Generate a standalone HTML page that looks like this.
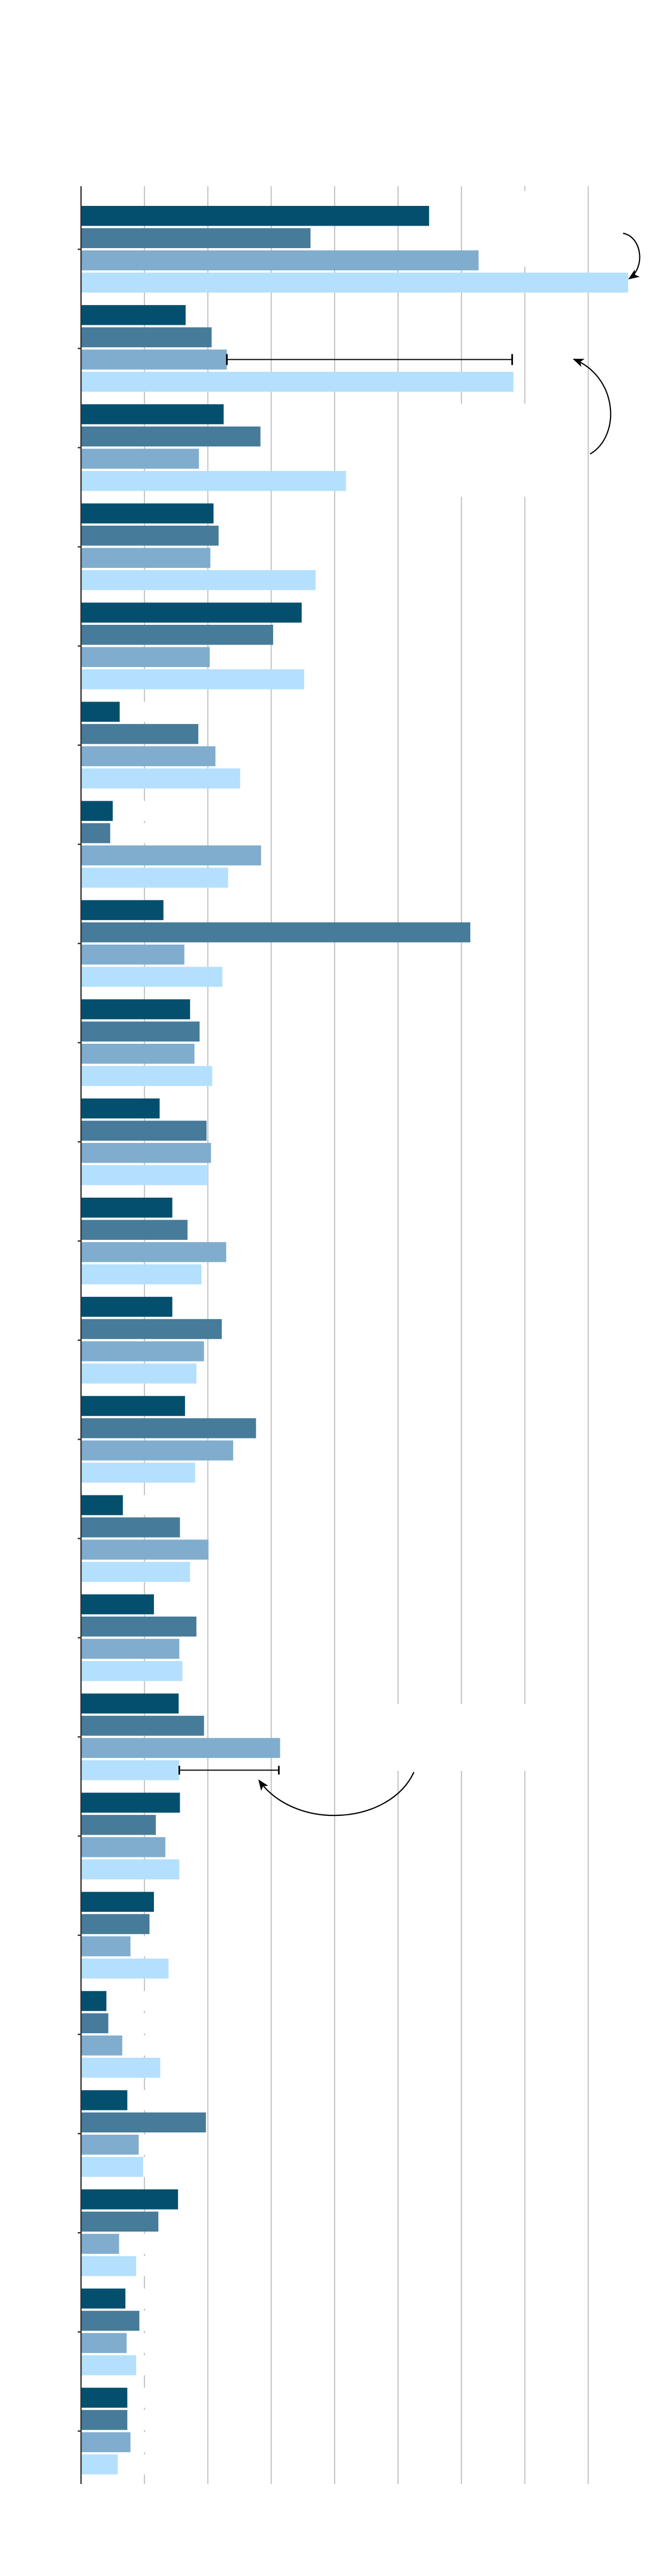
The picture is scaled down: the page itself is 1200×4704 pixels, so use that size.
<!DOCTYPE html>
<html><head><meta charset="utf-8"><title>Grouped bar chart</title>
<style>html,body{margin:0;padding:0;background:#fff}svg{display:block}</style></head>
<body>
<svg id="chart" width="1200" height="4704" viewBox="0 0 1200 4704" xmlns="http://www.w3.org/2000/svg">
<defs>
<marker id="ah" viewBox="0 0 20 20" refX="18" refY="10" markerWidth="20" markerHeight="20" markerUnits="userSpaceOnUse" orient="auto">
<path d="M0,2 L20,10 L0,18 L5,10 Z" fill="#000"/>
</marker>
</defs>
<g id="grid"></g>
<g id="masks"></g>
<g id="bars"></g>
<g id="axis"></g>
<g id="annot"></g>
</svg>
<script>
const categories = ["g1","g2","g3","g4","g5","g6","g7","g8","g9","g10","g11","g12","g13","g14","g15","g16","g17","g18","g19","g20","g21","g22","g23"];
const series1 = [54.9,16.5,22.5,20.9,34.8,6.1,5.0,13.0,17.2,12.4,14.4,14.4,16.4,6.6,11.5,15.4,15.6,11.5,4.0,7.3,15.3,7.0,7.3];
const series2 = [36.2,20.6,28.3,21.7,30.3,18.5,4.6,61.4,18.7,19.8,16.8,22.2,27.6,15.6,18.2,19.4,11.8,10.8,4.3,19.7,12.2,9.2,7.3];
const series3 = [62.7,23.0,18.6,20.4,20.3,21.2,28.4,16.3,17.9,20.5,22.9,19.4,24.0,20.1,15.5,31.4,13.3,7.8,6.5,9.1,6.0,7.2,7.8];
const series4 = [86.3,68.2,41.8,37.0,35.2,25.1,23.2,22.3,20.7,20.0,19.0,18.2,18.0,17.2,16.0,15.5,15.5,13.8,12.5,9.8,8.7,8.7,5.8];
const xTicks = [0,10,20,30,40,50,60,70,80];
const errorBars = [{group:1, series:2, from:23.0, to:68.0},{group:15, series:3, from:15.5, to:31.2}];

const NS="http://www.w3.org/2000/svg";
const X0=148, PX=11.58, TOP=340, BOTTOM=4536, G0=376, GP=181.1, BP=40.6, BH=36.5;
const colors=["#044f6e","#477b9a","#80adcd","#b4e0fe"];
const seriesAll=[series1,series2,series3,series4];
function xs(v){return X0+v*PX;}
function gy(i){return G0+i*GP;}
function mk(tag,attrs,parent){const e=document.createElementNS(NS,tag);for(const k in attrs)e.setAttribute(k,attrs[k]);parent.appendChild(e);return e;}

const grid=document.getElementById('grid');
xTicks.forEach((t,i)=>{ if(t===0) return;
  const l=mk('line',{x1:xs(t),x2:xs(t),y1:TOP,y2:BOTTOM,stroke:'#c0c0c0','stroke-width':2},grid);
  
  
});
const masks=document.getElementById('masks');
[[940,349,30,138],[800,737,180,170],[700,3112,280,122]].forEach(r=>{
  const m=mk('rect',{x:r[0],y:r[1],width:r[2],height:r[3],fill:'#fff'},masks);
  
  
});

const bars=document.getElementById('bars');
categories.forEach((c,i)=>{
  const g=mk('g',{},bars);
  
  
  for(let s=0;s<4;s++){
    const y=gy(i)+s*BP;
    mk('rect',{x:X0,y:y,width:160,height:BH,fill:'#fff'},g);
  }
  for(let s=0;s<4;s++){
    const y=gy(i)+s*BP;
    const r=mk('rect',{x:X0,y:y,width:Math.max(0,xs(seriesAll[s][i])-X0),height:BH,fill:colors[s]},g);
    
    
  }
});

const axis=document.getElementById('axis');
const al=mk('line',{x1:X0,x2:X0,y1:TOP,y2:BOTTOM,stroke:'#333','stroke-width':2.5},axis);


categories.forEach((c,i)=>{
  const yc=gy(i)+2*BP-2;
  const t=mk('line',{x1:X0-6,x2:X0,y1:yc,y2:yc,stroke:'#333','stroke-width':2.5},axis);
  
  
});

const annot=document.getElementById('annot');
errorBars.forEach(e=>{
  const yc=gy(e.group)+e.series*BP+BH/2;
  const h=e.group===1?20:16;
  const g=mk('g',{stroke:'#000','stroke-width':2},annot);
  
  
  mk('line',{x1:xs(e.from),x2:xs(e.to),y1:yc,y2:yc},g);
  mk('line',{x1:xs(e.from),x2:xs(e.from),y1:yc-h/2,y2:yc+h/2,'stroke-width':3},g);
  mk('line',{x1:xs(e.to),x2:xs(e.to),y1:yc-h/2,y2:yc+h/2,'stroke-width':3},g);
});
[["M1138,426 C1172,432 1180,488 1149,509","annotation-arrow-1"],
 ["M1078,829 C1135,795 1128,688 1048,656","annotation-arrow-2"],
 ["M756,3236 C712,3332 540,3345 473,3251","annotation-arrow-3"]].forEach(a=>{
  const p=mk('path',{d:a[0],fill:'none',stroke:'#000','stroke-width':2.2,'marker-end':'url(#ah)'},annot);
  
  
});
</script>
</body></html>
